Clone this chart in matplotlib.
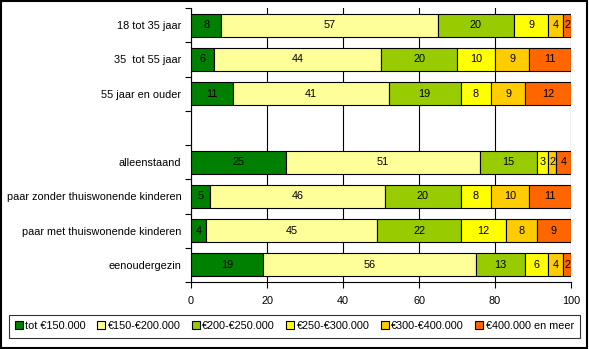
import numpy as np
import matplotlib.pyplot as plt
from matplotlib.patches import Rectangle

plt.rcParams['font.family'] = ['Liberation Sans', 'DejaVu Sans']
plt.rcParams['font.size'] = 7.8

# categorieën (lege regel als scheiding)
categories = ['18 tot 35 jaar', '35  tot 55 jaar', '55 jaar en ouder', '',
              'alleenstaand', 'paar zonder thuiswonende kinderen',
              'paar met thuiswonende kinderen', 'eenoudergezin']
series = ['tot €150.000', '€150-€200.000', '€200-€250.000',
          '€250-€300.000', '€300-€400.000', '€400.000 en meer']
colors = ['#008000', '#FFFF99', '#99CC00', '#FFFF00', '#FFCC00', '#FF6600']

tot_150 = [8, 6, 11, 0, 25, 5, 4, 19]
k150_200 = [57, 44, 41, 0, 51, 46, 45, 56]
k200_250 = [20, 20, 19, 0, 15, 20, 22, 13]
k250_300 = [9, 10, 8, 0, 3, 8, 12, 6]
k300_400 = [4, 9, 9, 0, 2, 10, 8, 4]
k400_meer = [2, 11, 12, 0, 4, 11, 9, 2]

values = [tot_150, k150_200, k200_250, k250_300, k300_400, k400_meer]

fig = plt.figure(figsize=(5.89, 3.49), dpi=100)
ax = fig.add_axes([191 / 589, 1 - 282 / 349, 380 / 589, 274 / 349])

y = np.arange(len(categories))
left = np.zeros(len(categories))
for vals, col, name in zip(values, colors, series):
    vals = np.array(vals, dtype=float)
    mask = vals > 0
    ax.barh(y[mask], vals[mask], left=left[mask], height=0.67, color=col,
            edgecolor='black', linewidth=0.8, label=name, zorder=3)
    for yi, v, l in zip(y[mask], vals[mask], left[mask]):
        ax.text(l + v / 2, yi, f'{int(v)}', ha='center', va='center',
                fontsize=7.8, zorder=4)
    left += vals

ax.set_xlim(0, 100)
ax.set_ylim(len(categories) - 0.5, -0.5)
ax.set_xticks([0, 20, 40, 60, 80, 100])
ax.set_yticks(y)
ax.set_yticklabels(categories)
ax.set_yticks(np.arange(-0.5, len(categories)), minor=True)
ax.tick_params(axis='y', which='major', length=0, pad=7)
ax.tick_params(axis='y', which='minor', length=4, direction='out', width=0.8)
ax.tick_params(axis='x', length=4, width=0.8, pad=6)
ax.grid(axis='x', color='black', linewidth=0.8, zorder=0)
ax.spines['top'].set_visible(False)
ax.spines['right'].set_visible(False)
for s in ['left', 'bottom']:
    ax.spines[s].set_linewidth(0.8)

leg = fig.legend(loc='center', bbox_to_anchor=(294.5 / 589, 1 - 326 / 349),
                 ncol=6, frameon=True, fancybox=False, edgecolor='black',
                 handlelength=0.7, handleheight=0.7, handletextpad=0.25,
                 columnspacing=1.05, borderpad=0.6, borderaxespad=0,
                 fontsize=7.8)
leg.get_frame().set_linewidth(0.8)

# rand om de hele figuur
fig.patches.append(Rectangle((0.002, 0.003), 0.994, 0.994, transform=fig.transFigure,
                             fill=False, edgecolor='black', linewidth=1.5))

fig.savefig('out.png', dpi=100)
